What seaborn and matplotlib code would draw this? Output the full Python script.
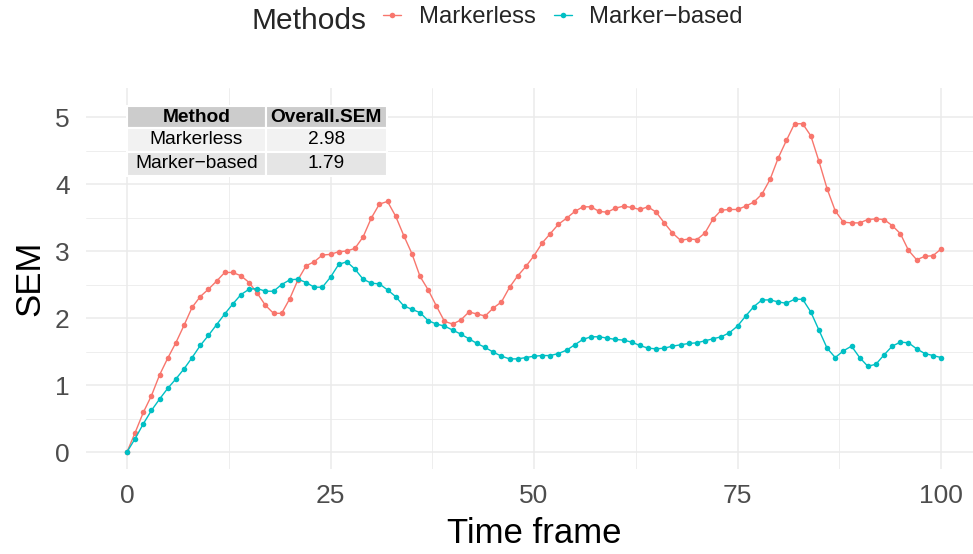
import numpy as np
import pandas as pd
import matplotlib
matplotlib.use("Agg")
import matplotlib.pyplot as plt
from matplotlib.patches import Rectangle
from matplotlib.ticker import MultipleLocator
import seaborn as sns

# ---- data -------------------------------------------------------------
time_frame = list(range(0, 101))

sem_markerless = [
    0.00, 0.29, 0.59, 0.84, 1.15, 1.40, 1.63, 1.89, 2.16, 2.32,
    2.43, 2.55, 2.68, 2.68, 2.63, 2.53, 2.37, 2.19, 2.07, 2.07,
    2.29, 2.57, 2.78, 2.84, 2.94, 2.95, 2.99, 3.00, 3.04, 3.21,
    3.49, 3.70, 3.74, 3.52, 3.23, 2.96, 2.62, 2.42, 2.18, 1.95,
    1.91, 1.97, 2.09, 2.06, 2.03, 2.15, 2.24, 2.46, 2.63, 2.77,
    2.93, 3.12, 3.26, 3.40, 3.49, 3.59, 3.66, 3.66, 3.59, 3.58,
    3.64, 3.67, 3.65, 3.62, 3.66, 3.58, 3.42, 3.27, 3.16, 3.18,
    3.17, 3.27, 3.48, 3.61, 3.62, 3.62, 3.67, 3.73, 3.85, 4.07,
    4.39, 4.65, 4.90, 4.90, 4.72, 4.34, 3.93, 3.60, 3.43, 3.42,
    3.42, 3.47, 3.48, 3.47, 3.38, 3.26, 3.01, 2.87, 2.92, 2.93,
    3.03,
]

sem_marker_based = [
    0.00, 0.20, 0.42, 0.62, 0.79, 0.95, 1.09, 1.24, 1.41, 1.59,
    1.74, 1.90, 2.06, 2.21, 2.35, 2.43, 2.44, 2.40, 2.40, 2.50,
    2.57, 2.58, 2.53, 2.46, 2.46, 2.61, 2.80, 2.84, 2.73, 2.58,
    2.52, 2.51, 2.42, 2.32, 2.18, 2.13, 2.08, 1.96, 1.91, 1.88,
    1.82, 1.76, 1.69, 1.62, 1.56, 1.49, 1.43, 1.39, 1.39, 1.41,
    1.43, 1.44, 1.44, 1.47, 1.52, 1.60, 1.68, 1.72, 1.72, 1.70,
    1.68, 1.67, 1.64, 1.59, 1.55, 1.54, 1.55, 1.58, 1.60, 1.62,
    1.63, 1.66, 1.69, 1.72, 1.78, 1.88, 2.03, 2.17, 2.27, 2.27,
    2.24, 2.22, 2.28, 2.28, 2.09, 1.82, 1.55, 1.41, 1.51, 1.58,
    1.41, 1.28, 1.31, 1.45, 1.58, 1.64, 1.63, 1.54, 1.47, 1.44,
    1.41,
]

methods = ["Markerless", "Marker\u2212based"]
overall_sem = ["2.98", "1.79"]
table_header = ["Method", "Overall.SEM"]

# ---- long-format frame --------------------------------------------------
df = pd.DataFrame({
    "Time frame": time_frame * 2,
    "SEM": sem_markerless + sem_marker_based,
    "Methods": [methods[0]] * len(time_frame) + [methods[1]] * len(time_frame),
})

# ---- style --------------------------------------------------------------
sns.set_style("white")
plt.rcParams["font.family"] = ["Liberation Sans", "DejaVu Sans"]

palette = {methods[0]: "#F8766D", methods[1]: "#00BFC4"}

fig = plt.figure(figsize=(9.73, 5.54), dpi=100)
ax = fig.add_axes([0.0887, 0.1534, 0.9203, 0.6877])

sns.lineplot(
    data=df, x="Time frame", y="SEM", hue="Methods", hue_order=methods,
    palette=palette, marker="o", markersize=4.0, markeredgewidth=0,
    linewidth=1.0, ax=ax, legend=True,
)

ax.set_xlim(-5, 105)
ax.set_ylim(-0.254, 5.433)

ax.xaxis.set_major_locator(MultipleLocator(25))
ax.xaxis.set_minor_locator(MultipleLocator(12.5))
ax.yaxis.set_major_locator(MultipleLocator(1))
ax.yaxis.set_minor_locator(MultipleLocator(0.5))
ax.grid(which="major", color="#EBEBEB", linewidth=1.1)
ax.grid(which="minor", color="#EBEBEB", linewidth=0.6)
ax.set_axisbelow(True)
for s in ax.spines.values():
    s.set_visible(False)

ax.tick_params(axis="both", which="both", length=0, labelsize=19, labelcolor="#4D4D4D")
ax.tick_params(axis="x", pad=11)
ax.tick_params(axis="y", pad=12)

ax.set_xlabel("Time frame", fontsize=25, color="black", labelpad=6)
ax.set_ylabel("SEM", fontsize=25, color="black", labelpad=6)

# ---- summary table ------------------------------------------------------
col_edges = [0.0, 17.04, 31.9]
row_edges = [5.164, 4.836, 4.48, 4.12]
row_fills = ["#CCCCCC", "#F2F2F2", "#E5E5E5"]
cells = [table_header] + [[m, v] for m, v in zip(methods, overall_sem)]
for r, row in enumerate(cells):
    y0, y1 = row_edges[r + 1], row_edges[r]
    for c, txt in enumerate(row):
        x0, x1 = col_edges[c], col_edges[c + 1]
        ax.add_patch(Rectangle((x0, y0), x1 - x0, y1 - y0,
                               facecolor=row_fills[r], edgecolor="white",
                               linewidth=1.5, zorder=3))
        ax.text((x0 + x1) / 2, (y0 + y1) / 2, txt, ha="center", va="center",
                fontsize=13.8, fontweight="bold" if r == 0 else "normal",
                color="black", zorder=4)

# ---- legend on top ------------------------------------------------------
handles, labels = ax.get_legend_handles_labels()
ax.get_legend().remove()
fig.text(251.7 / 973, 1 - 29 / 554, "Methods", fontsize=21.5, ha="left", va="baseline")
fig.legend(handles, labels, loc="center left", bbox_to_anchor=(383 / 973, 1 - 17 / 554),
           ncol=2, frameon=False, fontsize=17.2, handlelength=0.75,
           handletextpad=0.75, columnspacing=0.75, borderpad=0, borderaxespad=0,
           markerscale=1.0)

fig.savefig("out.png", dpi=100)
